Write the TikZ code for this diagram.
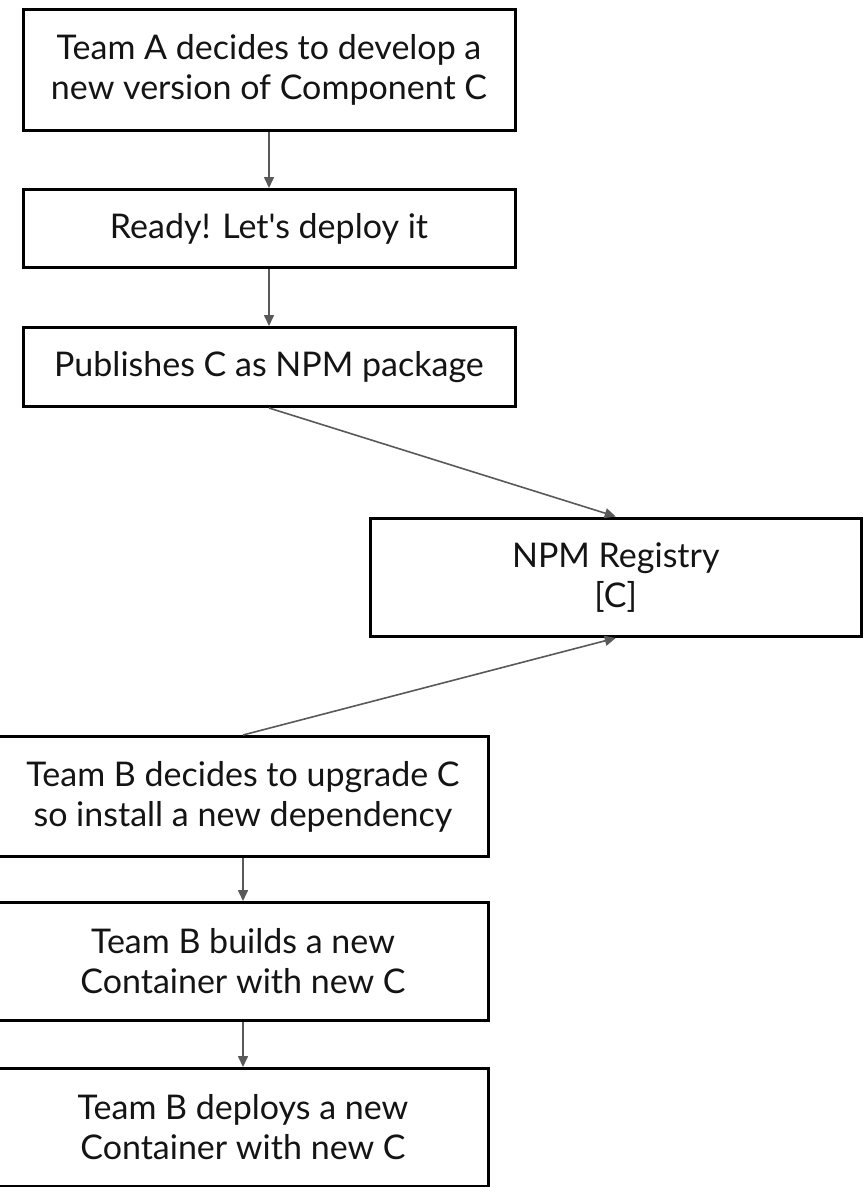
\documentclass[tikz,border=0pt]{standalone}
\usepackage{fontspec}
\setmainfont{Lato}[Ligatures=TeXOff]
\usetikzlibrary{arrows.meta}
\definecolor{arrowgray}{HTML}{595959}
\tikzset{
  box/.style={draw=black, line width=3pt, fill=white, align=center, inner sep=0pt,
    font=\fontsize{34}{40}\selectfont, text=black!92},
  conn/.style={draw=arrowgray, line width=1.6pt, -{Triangle[length=11pt,width=10pt]}}
}
\begin{document}
\begin{tikzpicture}[x=1pt,y=-1pt]
\useasboundingbox (0,0) rectangle (868,1187);
\clip (0,0) rectangle (868,1187);
\node[box, minimum width=492pt, minimum height=121pt] (a1) at (269,69.5) {Team A decides to develop a\\new version of Component C};
\node[box, minimum width=492pt, minimum height=78pt] (a2) at (269,228.5) {Ready! Let's deploy it};
\node[box, minimum width=492pt, minimum height=79pt] (a3) at (269,367) {Publishes C as NPM package};
\node[box, minimum width=490.5pt, minimum height=118.5pt] (npm) at (615.75,577.25) {NPM Registry\\{}[C]};
\node[box, minimum width=491pt, minimum height=120pt] (b1) at (243,796.5) {Team B decides to upgrade C\\so install a new dependency};
\node[box, minimum width=491pt, minimum height=118pt] (b2) at (243,961.5) {Team B builds a new\\Container with new C};
\node[box, minimum width=491pt, minimum height=118pt] (b3) at (243,1127.5) {Team B deploys a new\\Container with new C};
\draw[conn] (a1) -- (a2);
\draw[conn] (a2) -- (a3);
\draw[conn] (a3.south) -- (npm.north);
\draw[conn] (b1.north) -- (npm.south);
\draw[conn] (b1) -- (b2);
\draw[conn] (b2) -- (b3);
\end{tikzpicture}
\end{document}
